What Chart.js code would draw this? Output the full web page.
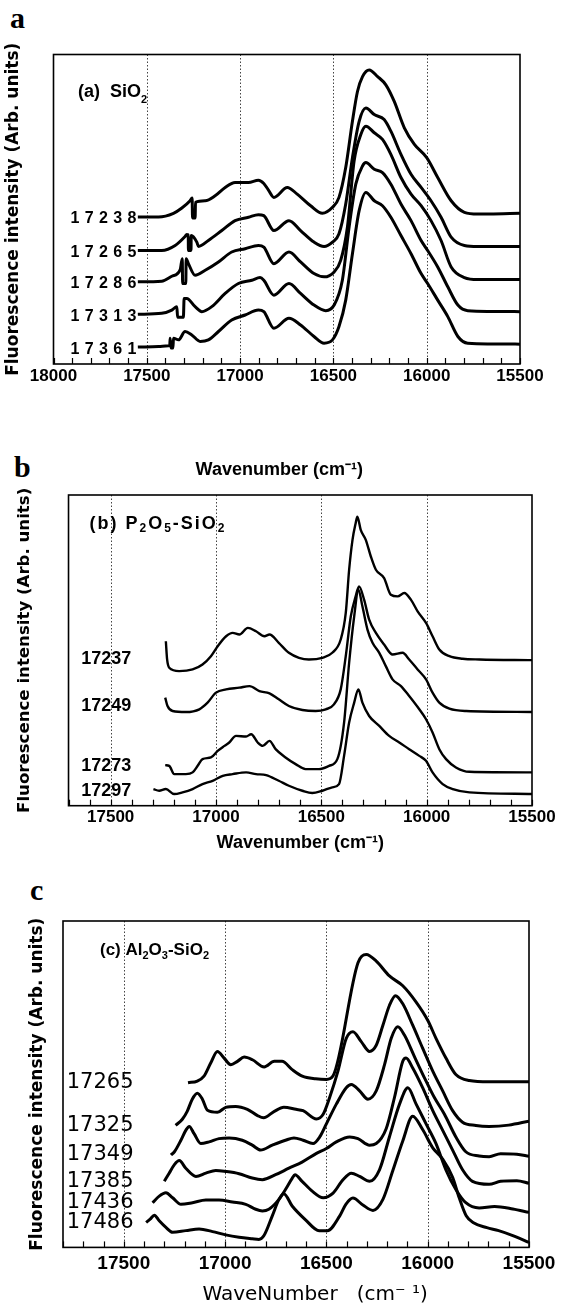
<!DOCTYPE html>
<html>
<head>
<meta charset="utf-8">
<script src="https://cdn.jsdelivr.net/npm/chart.js@4.4.0/dist/chart.umd.min.js"></script>
<style>
  html, body { margin: 0; padding: 0; background: #fff; }
  body { position: relative; width: 564px; height: 1307px; overflow: hidden; }
  canvas { position: absolute; left: 0; }
  .tag { position: absolute; font: bold 30px "Liberation Serif", "Times New Roman", serif; line-height: 30px; color: #000; }
</style>
</head>
<body>
<div class="tag" style="left:10px; top:3px">a</div>
<div class="tag" style="left:14px; top:452px">b</div>
<div class="tag" style="left:30px; top:875px">c</div>
<canvas id="chartA" width="564" height="490" style="top:0"></canvas>
<canvas id="chartB" width="564" height="382" style="top:478px"></canvas>
<canvas id="chartC" width="564" height="427" style="top:880px"></canvas>
<script>
// spectra are [wavenumber (cm-1), intensity (arb. units)]

// (a) SiO2
const labelsA = ['17238', '17265', '17286', '17313', '17361'];
const a17238 = [[17548,148],[17437,148],[17357,151.7],[17312,157],[17268,164.3],[17257,167],[17255,147],[17241,147],[17239,162.7],[17187,164.3],[17134,169.3],[17080,177.7],[17027,182.7],[16955,182.7],[16902,185],[16873,181.7],[16848,175],[16819,167.7],[16747,177.7],[16694,171],[16622,159.3],[16559,151.7],[16505,157.7],[16470,167.7],[16434,197.7],[16398,244.3],[16371,274.3],[16344,289.3],[16308,296],[16263,289.3],[16219,281],[16174,264.3],[16120,237.7],[16066,221],[16000,207.7],[15941,187.7],[15869,164.3],[15798,152.7],[15726,151],[15663,151],[15500,151.7]];
const a17265 = [[17548,114.3],[17420,114.3],[17348,119.3],[17295,128.3],[17286,130.3],[17278,130],[17277,114.3],[17263,114.3],[17262,129.3],[17232,122.7],[17223,118.3],[17170,124.3],[17098,134.3],[17027,144.3],[16955,147.7],[16902,150.3],[16873,149.3],[16819,134.3],[16738,144.3],[16676,134.3],[16604,122.7],[16550,118.3],[16505,122.7],[16470,131],[16434,161],[16398,207.7],[16362,244.3],[16326,257.7],[16281,251],[16228,246],[16192,234.3],[16138,211],[16084,191],[16030,177.7],[15977,164.3],[15923,147.7],[15869,127.7],[15798,119.3],[15726,118.3],[15500,118.3]];
const a17286 = [[17548,82.7],[17420,83.3],[17366,88.3],[17321,95],[17310,106],[17308,81],[17291,81],[17289,106],[17277,101],[17241,89.3],[17187,94.3],[17116,102.7],[17045,112.7],[16973,116],[16902,119.3],[16873,117.7],[16819,101],[16738,112.7],[16676,102.7],[16604,91],[16550,87.7],[16496,92.7],[16461,104.3],[16425,137.7],[16389,204.3],[16353,231],[16326,239.3],[16281,232.7],[16237,226],[16192,211],[16138,187.7],[16084,171],[16030,159.3],[15977,144.3],[15923,124.3],[15869,97.7],[15798,87],[15726,85],[15500,85]];
const a17313 = [[17548,50],[17420,51],[17366,54.3],[17339,57.7],[17335,47],[17304,47],[17300,66],[17286,66],[17241,57.7],[17205,52.7],[17152,57.7],[17080,71],[17009,81],[16937,84.3],[16893,87],[16873,84.3],[16819,69.3],[16738,81],[16676,71],[16604,59.3],[16541,53.7],[16496,59.3],[16452,84.3],[16416,137.7],[16380,181],[16344,199.3],[16326,202.7],[16281,196],[16237,192.7],[16192,181],[16138,161],[16084,144.3],[16030,124.3],[15995,114.3],[15941,97.7],[15887,77.7],[15833,59.3],[15780,53.7],[15500,52.7]];
const a17361 = [[17548,17],[17437,17.7],[17384,18.3],[17377,18.3],[17375,26],[17370,16],[17360,16],[17357,26],[17330,24.3],[17295,32.7],[17259,29.3],[17214,22.7],[17170,24.3],[17116,32.7],[17045,44.3],[16973,49.3],[16902,54.3],[16873,52.7],[16819,36],[16738,46],[16676,39.3],[16604,27.7],[16550,21],[16505,24.3],[16470,37.7],[16434,64.3],[16398,111],[16362,154.3],[16326,172.7],[16281,164.3],[16237,159.3],[16192,147.7],[16138,129.3],[16084,111],[16030,91],[15995,81],[15941,64.3],[15887,47.7],[15833,27.7],[15780,21],[15500,20]];

// (b) P2O5-SiO2
const labelsB = ['17237', '17249', '17273', '17297'];
const b17237 = [[17238,165],[17232,146.7],[17222,138.4],[17175,135],[17111,136.7],[17064,141.7],[17024,150],[16992,160],[16952,170],[16921,173.4],[16889,171.7],[16849,178.4],[16810,175],[16770,170],[16746,171.7],[16702,163.4],[16654,153.4],[16606,148.4],[16559,146.7],[16495,148.4],[16448,153.4],[16408,166.7],[16384,193.4],[16368,236.7],[16352,266.7],[16337,283.4],[16329,290],[16313,276.7],[16289,266.7],[16265,250],[16241,236.7],[16202,228.4],[16170,211.7],[16138,210],[16106,213.4],[16075,206.7],[16043,195],[16003,183.4],[15972,170],[15940,156.7],[15892,150],[15829,147.4],[15749,146.7],[15500,146]];
const b17249 = [[17241,108.4],[17230,100],[17206,95],[17143,94],[17079,96.7],[17040,103.4],[17000,113.4],[16952,116.7],[16889,118.4],[16841,120],[16794,115],[16746,112.7],[16702,106.7],[16654,100],[16590,96],[16527,95],[16479,96.7],[16440,101.7],[16408,116.7],[16384,150],[16360,190],[16337,210],[16321,220],[16297,206.7],[16273,186.7],[16241,173.4],[16202,161.7],[16162,151.7],[16114,153.4],[16083,146.7],[16043,136.7],[16003,126.7],[15972,113.4],[15940,103.4],[15892,97.4],[15813,95],[15500,94]];
const b17273 = [[17241,40.7],[17222,40],[17198,31.7],[17143,31.7],[17111,33.4],[17087,40],[17064,46.7],[17024,48.4],[16992,55],[16960,60],[16937,63.4],[16905,70],[16857,69.4],[16833,71.7],[16802,63.4],[16778,60],[16746,65],[16717,56.7],[16670,48.4],[16622,41.7],[16575,36.7],[16511,36.7],[16463,40],[16424,46.7],[16392,83.4],[16368,143.4],[16344,190],[16324,216.7],[16305,200],[16281,176.7],[16257,163.4],[16225,153.4],[16194,140],[16162,126.7],[16122,120],[16083,110],[16035,96.7],[16003,86.7],[15972,73.4],[15940,56.7],[15908,46.7],[15861,38.4],[15797,34],[15500,33.4]];
const b17297 = [[17297,16.7],[17270,15],[17238,16.7],[17198,11.7],[17159,13.4],[17111,16.7],[17064,21.7],[17016,25],[16968,30],[16921,31.7],[16857,33.4],[16810,31.7],[16762,30.7],[16702,25],[16654,20],[16590,15],[16543,12.7],[16495,15],[16448,18.4],[16416,21.7],[16392,50],[16368,83.4],[16344,103.4],[16324,116.7],[16305,103.4],[16273,90],[16225,80],[16178,70],[16130,63.4],[16083,56.7],[16035,50],[16003,45],[15972,33.4],[15924,21.7],[15876,16.7],[15797,13.4],[15500,11.7]];

// (c) Al2O3-SiO2
const labelsC = ['17265', '17325', '17349', '17385', '17436', '17486'];
const c17265 = [[17183,167],[17137,168.7],[17104,173.7],[17071,187],[17038,198.7],[17005,192],[16972,185.3],[16939,188.7],[16906,193],[16865,190.3],[16807,183],[16757,188.7],[16719,188.7],[16669,180.3],[16619,173.7],[16553,171],[16500,170.3],[16467,174],[16344,288.7],[16303,297],[16254,290.3],[16189,275.3],[16123,265.3],[16057,248.7],[16000,230.3],[15959,212],[15910,192],[15861,175.3],[15795,169.3],[15697,168],[15500,168]];
const c17325 = [[17244,123.7],[17211,130],[17187,138],[17162,150.3],[17137,156.3],[17112,150.3],[17087,139],[17038,137],[16997,142],[16948,143],[16890,140],[16840,133.7],[16810,131.5],[16757,138],[16710,142],[16650,140],[16615,138.7],[16549,130.3],[16516,135],[16484,152],[16443,178.7],[16402,212],[16369,218.7],[16328,208.7],[16287,198.7],[16254,205],[16221,225.3],[16189,245.3],[16159,255.3],[16123,247],[16074,225.3],[16025,202],[15975,178.7],[15926,158.7],[15877,138.7],[15828,127],[15762,123.7],[15697,122.7],[15600,124],[15500,128]];
const c17349 = [[17267,93.7],[17250,97],[17218,108.7],[17194,118.7],[17177,122.7],[17153,115.3],[17120,105.3],[17079,107],[17030,110.3],[16980,111],[16915,108.7],[16866,103.7],[16825,98.7],[16767,103.7],[16702,108.7],[16660,111],[16615,108.7],[16566,105.3],[16533,112],[16500,125.3],[16451,145.3],[16402,162],[16377,165.3],[16336,158.7],[16295,150.3],[16254,158.7],[16213,185.3],[16180,212],[16148,223.7],[16115,215.3],[16066,193.7],[16016,172],[15967,152],[15918,135.3],[15861,112],[15812,97],[15746,92.7],[15697,92],[15640,95],[15560,94.5],[15500,92.5]];
const c17385 = [[17300,67],[17276,75.3],[17251,83.7],[17226,88],[17194,80.3],[17144,72],[17095,75.3],[17046,78],[16997,77],[16931,74.7],[16866,70.3],[16816,68.7],[16751,73.7],[16685,80.3],[16620,86.5],[16549,95.3],[16500,100.3],[16451,107],[16385,112],[16344,110.3],[16287,103.7],[16254,105.3],[16205,120.3],[16164,152],[16123,188.7],[16107,192],[16074,182],[16025,162],[15975,138.7],[15926,118.7],[15877,98.7],[15828,78.7],[15779,67],[15697,64],[15640,67],[15560,67.5],[15500,65]];
const c17436 = [[17358,45.3],[17325,52],[17292,55.3],[17259,50.3],[17218,43.7],[17161,45.3],[17095,48],[17030,48],[16964,46],[16898,43.7],[16849,38.7],[16816,37],[16784,38.7],[16734,48.7],[16702,58.7],[16669,70],[16655,73.7],[16620,67],[16570,57],[16516,50.3],[16467,55],[16418,68.7],[16377,75.3],[16336,72],[16287,67],[16238,78.7],[16189,112],[16139,145.3],[16098,162],[16057,145.3],[16008,125.3],[15959,105.3],[15910,78.7],[15861,58.7],[15812,45.3],[15746,40],[15670,41.5],[15580,39],[15500,35.5]];
const c17486 = [[17390,25.3],[17370,28.7],[17349,32.7],[17325,27],[17292,20.3],[17259,15.3],[17194,17],[17128,18.7],[17062,16],[16997,12.7],[16931,10.3],[16866,8.7],[16833,8],[16808,12],[16767,32],[16734,48.7],[16710,54.5],[16669,42],[16603,28],[16536,17],[16495,17],[16434,32],[16404,43.7],[16369,50],[16320,43],[16270,37.5],[16221,48.7],[16172,78],[16123,108],[16074,133],[16025,119.5],[15975,101],[15926,89.5],[15877,71],[15844,50],[15810,32],[15774,25],[15708,20],[15650,17],[15580,12],[15500,5]];

// dotted reference lines and x-axis ranges
const gridLines = [17500, 17000, 16500, 16000];
const xRangeA = [15500, 18000];
const xRangeB = [15500, 17700];
const xRangeC = [15500, 17800];

const SANS = "'Liberation Sans', Arial, sans-serif";
const DEJAVU = "'DejaVu Sans', sans-serif";
Chart.defaults.font.family = SANS;
Chart.defaults.color = '#000';

// box, dotted lines, inward ticks, panel title and excitation labels
const deco = {
  id: 'deco',
  beforeDatasetsDraw(chart, args, o) {
    const { ctx, chartArea: ca, scales: { x } } = chart;
    ctx.save();
    ctx.strokeStyle = '#444';
    ctx.lineWidth = 1;
    ctx.setLineDash([1.5, 2]);
    gridLines.forEach(v => {
      const px = Math.round(x.getPixelForValue(v)) + 0.5;
      ctx.beginPath();
      ctx.moveTo(px, ca.top);
      ctx.lineTo(px, ca.bottom);
      ctx.stroke();
    });
    ctx.setLineDash([]);
    ctx.strokeStyle = '#000';
    ctx.lineWidth = 1.2;
    x.ticks.forEach((t, i) => {
      const px = Math.round(x.getPixelForTick(i)) + 0.5;
      ctx.beginPath();
      ctx.moveTo(px, ca.bottom);
      ctx.lineTo(px, ca.bottom - 6);
      ctx.stroke();
    });
    ctx.restore();
  },
  afterDatasetsDraw(chart, args, o) {
    const { ctx, chartArea: ca } = chart;
    ctx.save();
    ctx.strokeStyle = '#000';
    ctx.lineWidth = 1.6;
    ctx.strokeRect(ca.left, ca.top, ca.right - ca.left, ca.bottom - ca.top);

    // title like "(a) SiO2" with subscripts
    const t = o.title;
    let tx = ca.left + t.dx;
    const ty = ca.top + t.dy;
    ctx.fillStyle = '#000';
    ctx.textAlign = 'left';
    ctx.textBaseline = 'alphabetic';
    ctx.letterSpacing = (t.spacing || 0) + 'px';
    t.runs.forEach(([txt, sub]) => {
      ctx.font = `bold ${sub ? t.subSize : t.size}px ${SANS}`;
      ctx.fillText(txt, tx, ty + (sub ? t.subDrop : 0));
      tx += ctx.measureText(txt).width;
    });
    ctx.letterSpacing = '0px';

    // excitation wavenumber next to each trace
    const l = o.labels;
    ctx.font = l.font;
    ctx.textBaseline = 'middle';
    l.names.forEach((name, i) => {
      const pts = chart.getDatasetMeta(i).data;
      const y = pts[l.anchor].y + (l.dy || 0);
      if (l.pitch) {
        ctx.textAlign = 'center';
        const right = pts[0].x - 1;
        [...name].forEach((ch, k) => {
          ctx.fillText(ch, right - 5 - (name.length - 1 - k) * l.pitch, y);
        });
      } else {
        ctx.textAlign = 'left';
        ctx.fillText(name, ca.left + l.dx, y);
      }
    });
    ctx.restore();
  }
};

function makePanel(id, p) {
  const datasets = p.series.map(s => ({
    data: s.map(([x, y]) => ({ x, y })),
    borderColor: '#000',
    borderWidth: p.lineWidth,
    pointRadius: 0,
    fill: false,
    cubicInterpolationMode: 'monotone'
  }));
  return new Chart(document.getElementById(id), {
    type: 'line',
    data: { datasets },
    plugins: [deco],
    options: {
      responsive: false,
      animation: false,
      devicePixelRatio: 1,
      layout: { padding: p.padding },
      plugins: {
        legend: { display: false },
        tooltip: { enabled: false },
        deco: { title: p.title, labels: p.labels }
      },
      scales: {
        x: {
          type: 'linear',
          min: p.xRange[0],
          max: p.xRange[1],
          reverse: true,
          grid: { display: false, drawTicks: false },
          border: { display: false },
          ticks: {
            stepSize: 100,
            autoSkip: false,
            maxRotation: 0,
            minRotation: 0,
            padding: p.tickPad,
            font: { size: p.tickSize, weight: 'bold' },
            callback: v => (v % 500 === 0 ? String(v) : '')
          },
          title: {
            display: true,
            text: p.xTitle,
            font: p.xTitleFont,
            padding: p.xTitlePad
          }
        },
        y: {
          min: 0,
          max: p.yMax,
          grid: { display: false, drawTicks: false },
          border: { display: false },
          ticks: { display: false },
          title: {
            display: true,
            text: 'Fluorescence intensity (Arb. units)',
            font: { family: DEJAVU, size: p.yTitleSize, weight: 'bold' },
            padding: p.yTitlePad
          }
        }
      }
    }
  });
}

makePanel('chartA', {
  series: [a17238, a17265, a17286, a17313, a17361],
  xRange: xRangeA,
  yMax: 311.5,
  lineWidth: 3,
  padding: { top: 54.5, right: 44, bottom: 0, left: 0 },
  tickSize: 17,
  tickPad: 2,
  xTitle: 'Wavenumber (cm⁻¹)   ',
  xTitleFont: { size: 18, weight: 'bold' },
  xTitlePad: { top: 70.8, bottom: 9.2 },
  yTitleSize: 17,
  yTitlePad: { top: 3.8, bottom: 29.3 },
  title: { runs: [['(a)  SiO', 0], ['2', 1]], dx: 24.5, dy: 42, size: 18, subSize: 11, subDrop: 6 },
  labels: { names: labelsA, font: `bold 16px ${SANS}`, pitch: 14.2, anchor: 0, dy: 2 }
});

makePanel('chartB', {
  series: [b17237, b17249, b17273, b17297],
  xRange: xRangeB,
  yMax: 311.7,
  lineWidth: 2.4,
  padding: { top: 17, right: 32, bottom: 0, left: 0 },
  tickSize: 17,
  tickPad: 1,
  xTitle: 'Wavenumber (cm⁻¹)',
  xTitleFont: { size: 18, weight: 'bold' },
  xTitlePad: { top: 4.1, bottom: 6.2 },
  yTitleSize: 16.6,
  yTitlePad: { top: 14.8, bottom: 33.8 },
  title: { runs: [['(b) P', 0], ['2', 1], ['O', 0], ['5', 1], ['-SiO', 0], ['2', 1]], dx: 21, dy: 34.3, size: 18, subSize: 12, subDrop: 3, spacing: 2 },
  labels: { names: labelsB, font: `bold 18px ${SANS}`, dx: 12.7, anchor: 1 }
});

makePanel('chartC', {
  series: [c17265, c17325, c17349, c17385, c17436, c17486],
  xRange: xRangeC,
  yMax: 331,
  lineWidth: 3,
  padding: { top: 41, right: 35, bottom: 0, left: 0 },
  tickSize: 19,
  tickPad: 4.6,
  xTitle: '      WaveNumber   (cm⁻ ¹)',
  xTitleFont: { family: DEJAVU, size: 20, weight: 'normal' },
  xTitlePad: { top: 3.6, bottom: 0 },
  yTitleSize: 17,
  yTitlePad: { top: 27.8, bottom: 14.8 },
  title: { runs: [['(c) Al', 0], ['2', 1], ['O', 0], ['3', 1], ['-SiO', 0], ['2', 1]], dx: 37, dy: 34, size: 17, subSize: 11, subDrop: 3.5 },
  labels: { names: labelsC, font: `21px ${DEJAVU}`, dx: 3.7, anchor: 0 }
});
</script>
</body>
</html>
